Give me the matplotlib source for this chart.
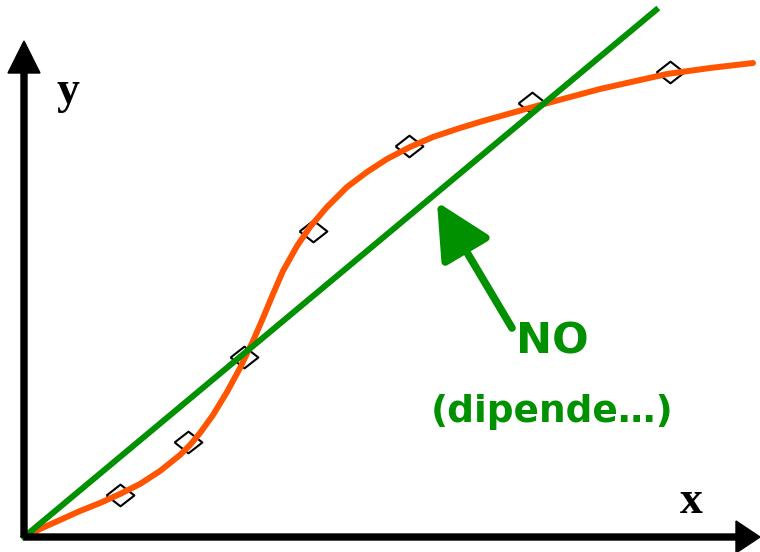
import matplotlib
matplotlib.use('Agg')
import matplotlib.pyplot as plt

# orange curve (origin = corner of the axes)
curve_x = [0, 16, 36, 56, 76, 96, 116, 136, 156, 166, 176, 189, 203, 216,
           229, 239, 249, 259, 273, 286, 303, 323, 343, 363, 386, 409, 436,
           459, 509, 576, 643, 686, 729]
curve_y = [0, 8, 17, 26, 34, 43, 53, 66, 82, 92, 104, 122, 145, 169,
           196, 219, 243, 266, 291, 310, 330, 350, 365, 378, 390, 400, 409,
           416, 430, 448, 463, 469, 474]

# measured points (diamonds)
pts_x = [96, 164, 220, 289, 385, 508, 646]
pts_y = [42, 95, 180, 306, 391, 434, 465]

# straight green fit
line_x = [0, 632]
line_y = [0, 527]

GREEN = '#009000'
ORANGE = '#ff5500'

fig = plt.figure(figsize=(7.6, 5.52), dpi=100)
ax = fig.add_axes([0, 0, 1, 1])
ax.set_xlim(-24, 736)
ax.set_ylim(-15, 537)
ax.axis('off')

# axes arrows
ax.arrow(0, 0, 0, 496, width=6, head_width=32, head_length=32,
         length_includes_head=True, color='k', zorder=5)
ax.arrow(0, 0, 736, 0, width=6, head_width=32, head_length=24,
         length_includes_head=True, color='k', zorder=5)

rhombus = [(-1, 0), (0, 0.78), (1, 0), (0, -0.78), (-1, 0)]
ax.plot(pts_x, pts_y, linestyle='none', marker=rhombus, markersize=20,
        mfc='none', mec='k', mew=1.5, zorder=1)

ax.plot(curve_x, curve_y, color=ORANGE, lw=4.3, solid_capstyle='round',
        solid_joinstyle='round', zorder=2)
ax.plot(line_x, line_y, color=GREEN, lw=4.3, zorder=3)

# arrow pointing at the line
ax.annotate('', xy=(413, 335), xytext=(488, 209),
            arrowprops=dict(arrowstyle='-|>,head_length=1.7,head_width=0.85',
                            color=GREEN, lw=5.5, mutation_scale=20,
                            shrinkA=0, shrinkB=0), zorder=4)

ax.text(528, 196, 'NO', color=GREEN, fontsize=31, fontweight='bold',
        ha='center', va='center', family='DejaVu Sans')
ax.text(528, 125, '(dipende…)', color=GREEN, fontsize=27, fontweight='bold',
        ha='center', va='center', family='DejaVu Sans')

ax.text(44, 445, 'y', fontsize=33, fontweight='bold', ha='center',
        va='center', family='Liberation Serif')
ax.text(667, 35, 'x', fontsize=33, fontweight='bold', ha='center',
        va='center', family='Liberation Serif')

fig.savefig('out.png', dpi=100)
